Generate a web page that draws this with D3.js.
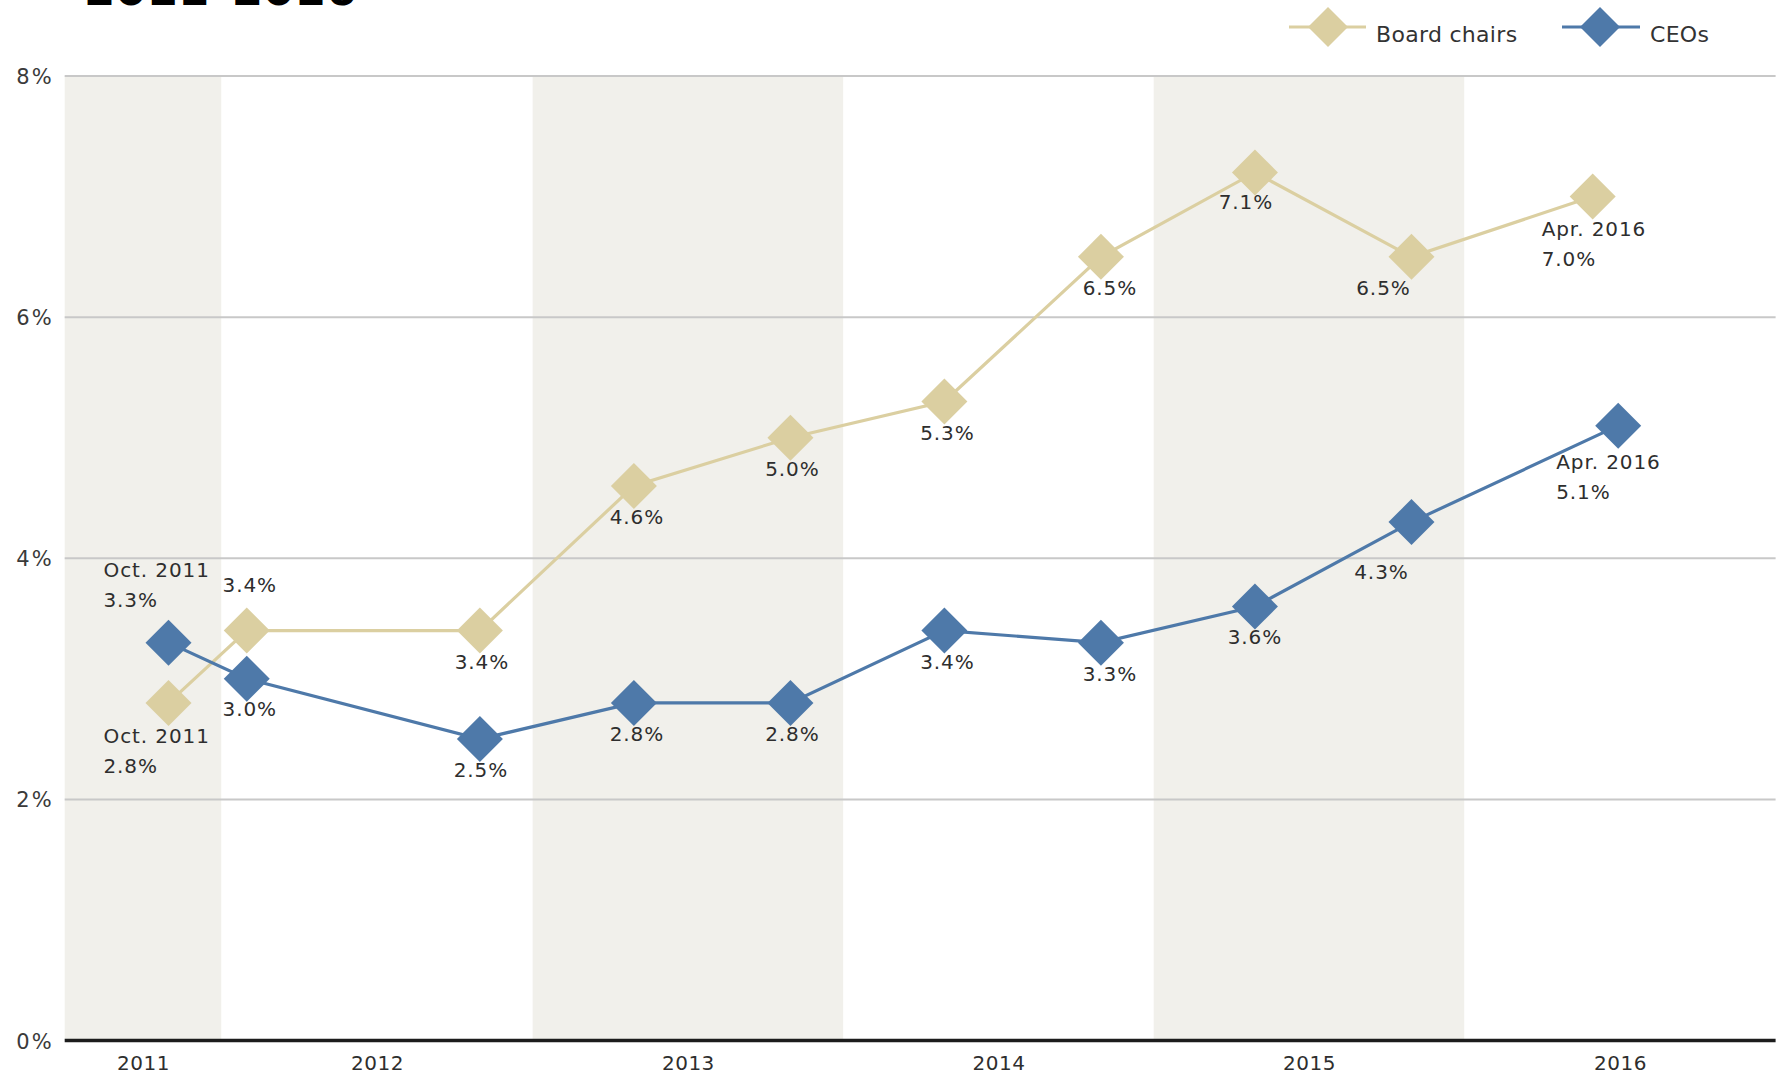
<!DOCTYPE html>
<html>
<head>
<meta charset="utf-8">
<script src="https://cdn.jsdelivr.net/npm/d3@7"></script>
<style>
  html, body { margin: 0; padding: 0; background: #ffffff; }
  svg { display: block; }
  text { font-family: "DejaVu Sans", "Noto Sans", sans-serif; }
</style>
</head>
<body>
<svg id="chart" width="1779" height="1080"></svg>
<script>
// ---------- data ----------
const title = "2011–2016";
const years = [2011, 2012, 2013, 2014, 2015, 2016];
const yTicks = [0, 2, 4, 6, 8];
const seriesNames = ["Board chairs", "CEOs"];

const boardDates  = ["2011-10-31", "2012-01-31", "2012-10-31", "2013-04-30", "2013-10-31",
                     "2014-04-30", "2014-10-31", "2015-04-30", "2015-10-31", "2016-05-31"];
const boardValues = [2.8, 3.4, 3.4, 4.6, 5.0, 5.3, 6.5, 7.2, 6.5, 7.0];
const boardLabels = ["Oct. 2011|2.8%", "3.4%", "3.4%", "4.6%", "5.0%", "5.3%", "6.5%", "7.1%", "6.5%", "Apr. 2016|7.0%"];

const ceoDates  = ["2011-10-31", "2012-01-31", "2012-10-31", "2013-04-30", "2013-10-31",
                   "2014-04-30", "2014-10-31", "2015-04-30", "2015-10-31", "2016-06-30"];
const ceoValues = [3.3, 3.0, 2.5, 2.8, 2.8, 3.4, 3.3, 3.6, 4.3, 5.1];
const ceoLabels = ["Oct. 2011|3.3%", "3.0%", "2.5%", "2.8%", "2.8%", "3.4%", "3.3%", "3.6%", "4.3%", "Apr. 2016|5.1%"];

// ---------- layout (label nudges, not data) ----------
// [dx, dy of first baseline, anchor]
const boardLabelLayout = [
  [-65, 40, "start"], [3, -39, "middle"], [2, 38, "middle"], [3, 38, "middle"], [2, 38, "middle"],
  [3, 38, "middle"], [9, 38, "middle"], [-9, 37, "middle"], [-28, 38, "middle"], [-51, 39, "start"]
];
const ceoLabelLayout = [
  [-65, -66, "start"], [3, 37, "middle"], [1, 38, "middle"], [3, 38, "middle"], [2, 38, "middle"],
  [3, 38, "middle"], [9, 38, "middle"], [0, 38, "middle"], [-30, 57, "middle"], [-62, 43, "start"]
];

// ---------- styles ----------
const colors = { board: "#dbcfa1", ceo: "#4e79a9", band: "#f1f0eb", grid: "#c8c8c8", axis: "#1c1c1c", text: "#2e2e2e" };

const svg = d3.select("#chart");
const parse = d3.timeParse("%Y-%m-%d");
const pL = 64.7, pR = 1775.6, pT = 76, pB = 1040.5;

const xStart = new Date(2011, 6, 1), xEnd = new Date(2017, 0, 1);
const x = d3.scaleTime().domain([xStart, xEnd]).range([pL, pR]);
const y = d3.scaleLinear().domain([0, 8]).range([pB, pT]);

// bands for alternating years
const yearSpans = years.map(yr => {
  const s = new Date(Math.max(+new Date(yr, 0, 1), +xStart));
  const e = new Date(yr + 1, 0, 1);
  return { yr, s, e, mid: new Date((+s + +e) / 2) };
});
svg.append("g").selectAll("rect")
  .data(yearSpans.filter(d => (d.yr - 2011) % 2 === 0))
  .join("rect")
  .attr("x", d => x(d.s)).attr("width", d => x(d.e) - x(d.s))
  .attr("y", y(8)).attr("height", y(0) - y(8))
  .attr("fill", colors.band);

// gridlines
svg.append("g").selectAll("line")
  .data(yTicks.filter(t => t > 0))
  .join("line")
  .attr("x1", pL).attr("x2", pR)
  .attr("y1", d => y(d)).attr("y2", d => y(d))
  .attr("stroke", colors.grid).attr("stroke-width", 2);

// y axis labels
const yAxis = svg.append("g").attr("transform", `translate(${pL},0)`)
  .call(d3.axisLeft(y).tickValues(yTicks).tickSize(0).tickPadding(11).tickFormat(d => d + "%"));
yAxis.select(".domain").remove();
yAxis.selectAll("text").attr("font-size", 21).attr("fill", "#3a3a3a")
  .attr("font-family", "DejaVu Sans").attr("letter-spacing", 2).attr("dy", "0.36em");

// x axis labels
const xAxis = svg.append("g").attr("transform", `translate(0,${pB})`)
  .call(d3.axisBottom(x).tickValues(yearSpans.map(d => d.mid)).tickSize(0).tickPadding(15)
    .tickFormat((d, i) => String(years[i])));
xAxis.select(".domain").remove();
xAxis.selectAll("text").attr("font-size", 20).attr("fill", "#2e2e2e").attr("font-family", "DejaVu Sans")
  .attr("letter-spacing", 0.5);

// baseline
svg.append("line")
  .attr("x1", pL).attr("x2", pR)
  .attr("y1", y(0)).attr("y2", y(0))
  .attr("stroke", colors.axis).attr("stroke-width", 3.5);

// series
const series = [
  { key: "board", dates: boardDates, values: boardValues, labels: boardLabels, layout: boardLabelLayout, color: colors.board },
  { key: "ceo", dates: ceoDates, values: ceoValues, labels: ceoLabels, layout: ceoLabelLayout, color: colors.ceo }
];

const line = d3.line().x(d => x(d.date)).y(d => y(d.value));
function diamondPath(h) { return `M0,${-h}L${h},0L0,${h}L${-h},0Z`; }

series.forEach(s => {
  const pts = s.dates.map((d, i) => ({ date: parse(d), value: s.values[i], label: s.labels[i], lay: s.layout[i] }));
  const g = svg.append("g");
  g.append("path").datum(pts).attr("d", line)
    .attr("fill", "none").attr("stroke", s.color).attr("stroke-width", 3.2);
  g.selectAll("path.pt").data(pts).join("path").attr("class", "pt")
    .attr("transform", d => `translate(${x(d.date)},${y(d.value)})`)
    .attr("d", diamondPath(23)).attr("fill", s.color);
  s.pts = pts;
});

// labels on top
series.forEach(s => {
  const g = svg.append("g");
  s.pts.forEach(d => {
    const [dx, dy, anchor] = d.lay;
    const lines = d.label.split("|");
    const t = g.append("text")
      .attr("x", x(d.date) + dx).attr("y", y(d.value) + dy)
      .attr("text-anchor", anchor).attr("font-size", 20).attr("fill", colors.text)
      .attr("letter-spacing", 0.9);
    lines.forEach((ln, i) => {
      t.append("tspan").attr("x", x(d.date) + dx).attr("dy", i === 0 ? 0 : 30).text(ln);
    });
  });
});

// legend
const legend = svg.append("g");
const legendItems = [
  { name: seriesNames[0], color: colors.board, x1: 1289, x2: 1366, cx: 1328, tx: 1376 },
  { name: seriesNames[1], color: colors.ceo, x1: 1562, x2: 1640, cx: 1600, tx: 1650 }
];
legendItems.forEach(it => {
  legend.append("line").attr("x1", it.x1).attr("x2", it.x2).attr("y1", 27).attr("y2", 27)
    .attr("stroke", it.color).attr("stroke-width", 3.2);
  legend.append("path").attr("transform", `translate(${it.cx},27)`).attr("d", diamondPath(20)).attr("fill", it.color);
  legend.append("text").attr("x", it.tx).attr("y", 42).attr("font-size", 22).attr("fill", "#333")
    .attr("letter-spacing", 0.3).text(it.name);
});

// title (partially cut at the top, as in the reference)
svg.append("text").attr("x", 84).attr("y", 5).attr("font-size", 45).attr("font-weight", "bold")
  .attr("fill", "#000").text(title);
</script>
</body>
</html>
